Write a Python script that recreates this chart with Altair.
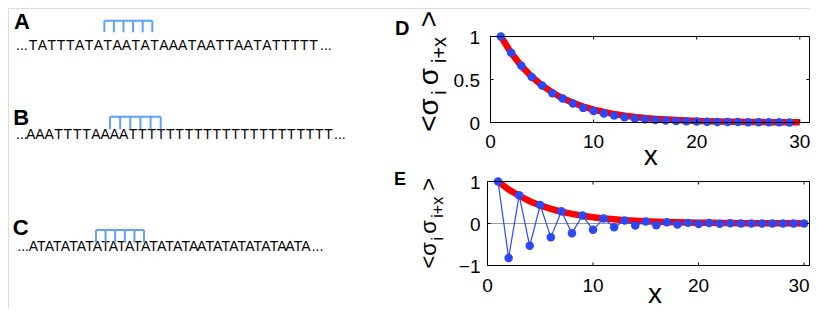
import altair as alt
import pandas as pd

# ---------------- data ----------------
panel_labels = ["A", "B", "C"]
sequences = [
    "TATTTATATAATATAAATAATTAATATTTTT",
    "AAATTTTAAAATTTTTTTTTTTTTTTTTTTTTT",
    "ATATATATATATATATATATAATATATATATAATA",
]

d_x = list(range(1, 30))
d_corr = [1.0, 0.81, 0.66, 0.53, 0.43, 0.34, 0.28, 0.22, 0.17, 0.135, 0.105, 0.08,
          0.06, 0.047, 0.037, 0.029, 0.023, 0.018, 0.014, 0.011, 0.009, 0.007, 0.006,
          0.005, 0.004, 0.003, 0.002, 0.002, 0.001]
d_fit_x = list(range(1, 31))
d_fit = [1.0, 0.81, 0.656, 0.531, 0.43, 0.349, 0.282, 0.229, 0.185, 0.15, 0.122, 0.098,
         0.08, 0.064, 0.052, 0.042, 0.034, 0.028, 0.022, 0.018, 0.015, 0.012, 0.01,
         0.008, 0.006, 0.005, 0.004, 0.003, 0.003, 0.002]

e_x = list(range(1, 31))
e_corr = [1.0, -0.82, 0.67, -0.53, 0.44, -0.33, 0.29, -0.23, 0.19, -0.15, 0.12, -0.09,
          0.07, -0.05, 0.05, -0.04, 0.03, -0.025, 0.015, -0.01, 0.01, -0.005, 0.005,
          0.0, 0.0, 0.0, 0.0, 0.0, 0.0, 0.0]
e_fit = [1.0, 0.81, 0.66, 0.53, 0.43, 0.35, 0.28, 0.23, 0.185, 0.15, 0.12, 0.1,
         0.08, 0.065, 0.052, 0.042, 0.034, 0.028, 0.022, 0.018, 0.015, 0.012, 0.01,
         0.008, 0.006, 0.005, 0.004, 0.003, 0.003, 0.002]

d_xticks = [0.0, 10.0, 20.0, 30.0]
d_xlabels = ["0", "10", "20", "30"]
d_yticks = [0.0, 0.5, 1.0]
d_ylabels = ["0", "0.5", "1"]
e_xticks = [0.0, 10.0, 20.0, 30.0]
e_xlabels = ["0", "10", "20", "30"]
e_yticks = [-1.0, 0.0, 1.0]
e_ylabels = ["\u22121", "0", "1"]

# ---------------- layout / style ----------------
FONT = "Liberation Sans"
BLUE = "#2a48f8"
RED = "#ff0000"
COMB = "#5ea2ff"
DOT = 72
LAB = 19
W_SVG, H_SVG = 802, 300


def P(v):  # page pixel -> svg pixel
    return v - 8


D_X0, D_X1, D_Y0, D_Y1 = 482.5, 801.5, 114.5, 28.5
E_X0, E_X1, E_Y0, E_Y1 = 479.5, 801.5, 257.5, 173.5
D_XMAX = 30.94
E_XMAX = 30.51
D_DOM_X, D_DOM_Y = [0, D_XMAX], [0, 1]
E_DOM_X, E_DOM_Y = [0, E_XMAX], [-1, 1]

sDx = alt.Scale(domain=D_DOM_X, range=[D_X0, D_X1], nice=False, zero=False)
sDy = alt.Scale(domain=D_DOM_Y, range=[D_Y0, D_Y1], nice=False, zero=False)
sEx = alt.Scale(domain=E_DOM_X, range=[E_X0, E_X1], nice=False, zero=False)
sEy = alt.Scale(domain=E_DOM_Y, range=[E_Y0, E_Y1], nice=False, zero=False)


def lin(v, dom, r0, r1):
    return r0 + (v - dom[0]) / (dom[1] - dom[0]) * (r1 - r0)


def QX(f, s):
    return alt.X(f, type="quantitative", scale=s, axis=None)


def QY(f, s):
    return alt.Y(f, type="quantitative", scale=s, axis=None)


one = pd.DataFrame({"a": [0]})

# ---------------- left panel (sequences) ----------------
row_layout = [
    dict(lab=(14, 29), base=50, first=28.3, last=318.3, dl=16, dr=320, comb=(104.3, 152.3, 20.7, 32.3)),
    dict(lab=(13.3, 125), base=139, first=26, last=333.3, dl=16, dr=334, comb=(110, 160.7, 116.7, 129.3)),
    dict(lab=(12.7, 235), base=250.7, first=29.3, last=310, dl=17.3, dr=311.7, comb=(96, 144, 230, 242.3)),
]

chars, dots, labs, bars, teeth = [], [], [], [], []
for lab, seq, r in zip(panel_labels, sequences, row_layout):
    n = len(seq)
    step = (r["last"] - r["first"]) / n
    for i, ch in enumerate(seq):
        chars.append(dict(ch=ch, px=P(r["first"] + (i + 0.5) * step), py=P(r["base"])))
    dots.append(dict(t="...", px=P(r["dl"]), py=P(r["base"])))
    dots.append(dict(t="...", px=P(r["dr"]), py=P(r["base"])))
    labs.append(dict(t=lab, px=P(r["lab"][0]), py=P(r["lab"][1])))
    x1, x2, y1, y2 = r["comb"]
    bars.append(dict(x1=P(x1), x2=P(x2), y=P(y1)))
    for k in range(6):
        teeth.append(dict(x=P(x1 + k * (x2 - x1) / 5), y1=P(y1), y2=P(y2)))

df_chars = pd.DataFrame(chars)
df_dots = pd.DataFrame(dots)
df_labs = pd.DataFrame(labs)
df_bars = pd.DataFrame(bars)
df_teeth = pd.DataFrame(teeth)

layers = [
    alt.Chart(df_labs).mark_text(font=FONT, fontSize=22, fontWeight="bold", align="left",
                                 baseline="alphabetic", color="black").encode(
        x=QX("px", None), y=QY("py", None), text="t:N"),
    alt.Chart(df_chars).mark_text(font=FONT, fontSize=14, align="center",
                                  baseline="alphabetic", color="black").encode(
        x=QX("px", None), y=QY("py", None), text="ch:N"),
    alt.Chart(df_dots).mark_text(font=FONT, fontSize=14, align="left",
                                 baseline="alphabetic", color="black").encode(
        x=QX("px", None), y=QY("py", None), text="t:N"),
    alt.Chart(df_bars).mark_rule(color=COMB, strokeWidth=2).encode(
        x=QX("x1", None), x2="x2:Q", y=QY("y", None)),
    alt.Chart(df_teeth).mark_rule(color=COMB, strokeWidth=2).encode(
        x=QX("x", None), y=QY("y1", None), y2="y2:Q"),
]


def text_at(txt, x, y, size, bold=False, angle=0, align="center"):
    kw = dict(text=txt, font=FONT, fontSize=size, align=align, baseline="alphabetic",
              color="black")
    if bold:
        kw["fontWeight"] = "bold"
    if angle:
        kw["angle"] = angle
    return alt.Chart(one).mark_text(**kw).encode(x=alt.value(P(x)), y=alt.value(P(y)))


def panel_layers(sx, sy, domx, domy, x0, x1, y0, y1, xt, xl, yt, yl,
                 xlab_base, ylab_right, last_dx=0.0):
    out = []
    fr = pd.DataFrame({"xa": [float(domx[0])], "xb": [float(domx[1])],
                       "ya": [float(domy[0])], "yb": [float(domy[1])]})
    out.append(alt.Chart(fr).mark_rect(filled=False, stroke="black", strokeWidth=1).encode(
        x=QX("xa", sx), x2="xb:Q", y=QY("ya", sy), y2="yb:Q"))
    dfx = pd.DataFrame({"x": xt})
    dfy = pd.DataFrame({"y": yt})
    L = 3
    out += [
        alt.Chart(dfx).mark_rule(color="black", strokeWidth=1).encode(
            x=QX("x", sx), y=alt.value(y0), y2=alt.value(y0 - L)),
        alt.Chart(dfx).mark_rule(color="black", strokeWidth=1).encode(
            x=QX("x", sx), y=alt.value(y1), y2=alt.value(y1 + L)),
        alt.Chart(dfy).mark_rule(color="black", strokeWidth=1).encode(
            y=QY("y", sy), x=alt.value(x0), x2=alt.value(x0 + L)),
        alt.Chart(dfy).mark_rule(color="black", strokeWidth=1).encode(
            y=QY("y", sy), x=alt.value(x1 - L), x2=alt.value(x1)),
    ]
    # tick labels: one text mark per tick
    for k, (v, s) in enumerate(zip(xt, xl)):
        kw = dict(text=s, font=FONT, fontSize=LAB, baseline="alphabetic", color="black",
                  align="center")
        if last_dx and k == len(xt) - 1:
            kw.update(align="right", dx=last_dx)
        xe = alt.value(lin(v, domx, x0, x1)) if v == 0 else QX("x", sx)
        out.append(alt.Chart(pd.DataFrame({"x": [v]})).mark_text(**kw).encode(
            x=xe, y=alt.value(P(xlab_base))))
    for v, s in zip(yt, yl):
        ye = alt.value(lin(v, domy, y0, y1)) if v == 0 else QY("y", sy)
        out.append(alt.Chart(pd.DataFrame({"y": [v]})).mark_text(
            text=s, font=FONT, fontSize=LAB, align="right", dy=7, baseline="alphabetic",
            color="black").encode(y=ye, x=alt.value(P(ylab_right))))
    return out


# ---------------- panel D ----------------
df_d = pd.DataFrame({"x": d_x, "y": d_corr})
df_dfit = pd.DataFrame({"x": d_fit_x, "y": d_fit})

layers += [
    alt.Chart(df_dfit).mark_line(color=RED, strokeWidth=6.5).encode(x=QX("x", sDx), y=QY("y", sDy)),
    alt.Chart(df_d).mark_circle(color=BLUE, size=DOT, opacity=1).encode(x=QX("x", sDx), y=QY("y", sDy)),
]
layers += panel_layers(sDx, sDy, D_DOM_X, D_DOM_Y, D_X0, D_X1, D_Y0, D_Y1,
                       d_xticks, d_xlabels, d_yticks, d_ylabels, 148.3, 480)
layers += [
    text_at("D", 395, 35, 20, bold=True, align="left"),
    text_at("<σ", 438, 115, 28, angle=270),
    text_at("i", 446, 92.5, 20, angle=270),
    text_at("σ", 438, 76.5, 28, angle=270),
    text_at("i+x", 446, 50, 20, angle=270),
    text_at(">", 438, 19, 28, angle=270),
    text_at("x", 650.7, 165, 28),
]

# ---------------- panel E ----------------
df_e = pd.DataFrame({"x": e_x, "y": e_corr})
df_efit = pd.DataFrame({"x": e_x, "y": e_fit})
zero_line = pd.DataFrame({"xa": [0.0], "xb": [E_XMAX], "y": [0.0]})

layers += [
    alt.Chart(zero_line).mark_rule(color="#9a9a9a", strokeWidth=1).encode(
        x=QX("xa", sEx), x2="xb:Q", y=QY("y", sEy)),
    alt.Chart(df_efit).mark_line(color=RED, strokeWidth=6.5).encode(x=QX("x", sEx), y=QY("y", sEy)),
    alt.Chart(df_e).mark_line(color=BLUE, strokeWidth=1.2).encode(x=QX("x", sEx), y=QY("y", sEy)),
    alt.Chart(df_e).mark_circle(color=BLUE, size=DOT, opacity=1).encode(x=QX("x", sEx), y=QY("y", sEy)),
]
layers += panel_layers(sEx, sEy, E_DOM_X, E_DOM_Y, E_X0, E_X1, E_Y0, E_Y1,
                       e_xticks, e_xlabels, e_yticks, e_ylabels, 291.6, 480.5, last_dx=5.5)
layers += [
    text_at("E", 394, 185, 18, bold=True, align="left"),
    text_at("<σ", 436, 255.4, 22, angle=270),
    text_at("i", 443, 238.8, 16, angle=270),
    text_at("σ", 436, 227, 22, angle=270),
    text_at("i+x", 443, 207.3, 16, angle=270),
    text_at(">", 436, 184.4, 22, angle=270),
    text_at("x", 655, 303, 28),
]

chart = alt.layer(*layers).resolve_scale(
    x="independent", y="independent"
).properties(
    width=W_SVG, height=H_SVG, padding=0,
    autosize=alt.AutoSizeParams(type="none"),
).configure_view(stroke="transparent", strokeWidth=0).configure(font=FONT, background="white")

chart.save("out.html", embed_options={"renderer": "svg", "actions": False})
